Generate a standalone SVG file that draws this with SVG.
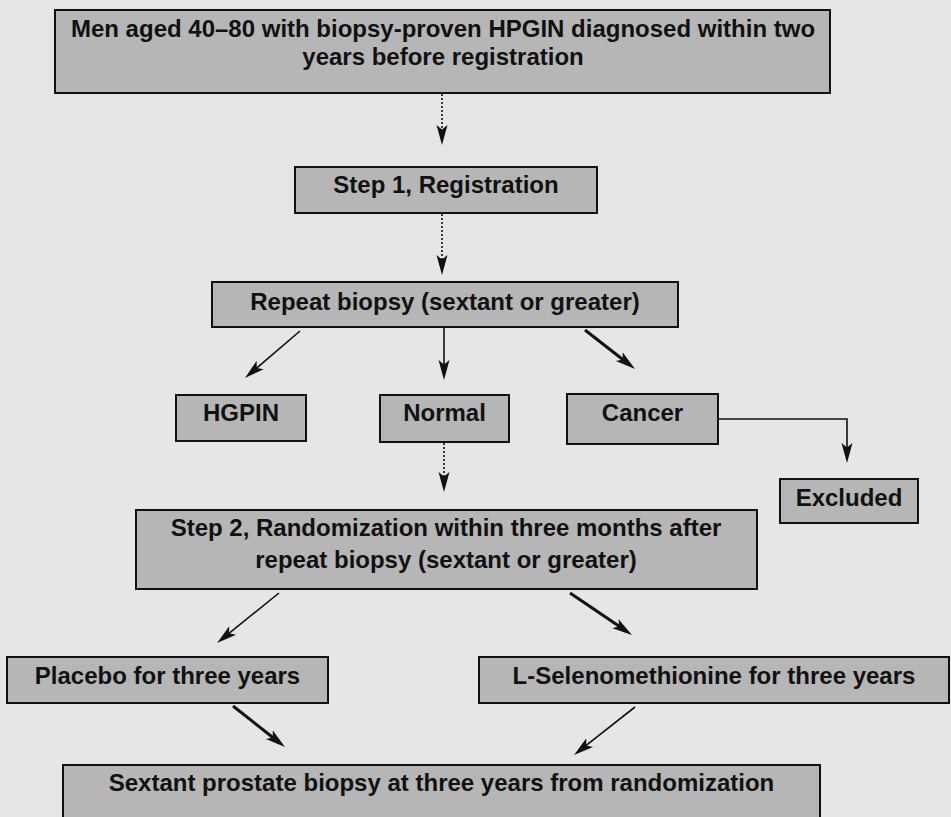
<svg xmlns="http://www.w3.org/2000/svg" width="951" height="817" viewBox="0 0 951 817">
<style>
.box{fill:#b6b6b6;stroke:#111;stroke-width:2}
.t{font-family:"Liberation Sans",Arial,sans-serif;font-weight:bold;font-size:24px;fill:#111;text-anchor:middle}
.c{fill:none;stroke:#111;stroke-width:1.6}
.thick{stroke-width:3}
.dot{stroke-dasharray:2 2}
</style>
<defs>
<marker id="ah" markerUnits="userSpaceOnUse" markerWidth="22" markerHeight="14" refX="13" refY="7" orient="auto">
<path d="M0,1.5 L20,7 L0,12.5 L4.5,7 z" fill="#111"/>
</marker>
</defs>
<rect x="0" y="0" width="951" height="817" fill="#e6e6e6"/>
<g id="connectors">
<line class="c dot" x1="442" y1="94" x2="442" y2="138" marker-end="url(#ah)"/>
<line class="c dot" x1="442" y1="214" x2="442" y2="268" marker-end="url(#ah)"/>
<line class="c" x1="300" y1="331" x2="250.3" y2="373.5" marker-end="url(#ah)"/>
<line class="c" x1="444" y1="328" x2="444" y2="373" marker-end="url(#ah)"/>
<line class="c thick" x1="585" y1="330" x2="629.5" y2="364.7" marker-end="url(#ah)"/>
<line class="c dot" x1="444" y1="443" x2="444" y2="485" marker-end="url(#ah)"/>
<path class="c" d="M719,419 H847 V456" marker-end="url(#ah)"/>
<line class="c" x1="279" y1="593" x2="222.5" y2="638.6" marker-end="url(#ah)"/>
<line class="c thick" x1="570" y1="593" x2="626.2" y2="631.1" marker-end="url(#ah)"/>
<line class="c thick" x1="233" y1="706" x2="279.5" y2="742.7" marker-end="url(#ah)"/>
<line class="c" x1="635" y1="707" x2="579.5" y2="750.7" marker-end="url(#ah)"/>
</g>
<g id="n-top">
<rect class="box" x="55" y="10" width="775" height="83"/>
<text class="t" x="443" y="37">Men aged 40–80 with biopsy-proven HPGIN diagnosed within two</text>
<text class="t" x="443" y="65">years before registration</text>
</g>
<g id="n-step1">
<rect class="box" x="295" y="167" width="302" height="46"/>
<text class="t" x="446" y="193">Step 1, Registration</text>
</g>
<g id="n-repeat">
<rect class="box" x="212" y="282" width="466" height="45"/>
<text class="t" x="445" y="310">Repeat biopsy (sextant or greater)</text>
</g>
<g id="n-hgpin">
<rect class="box" x="176" y="395" width="130" height="46"/>
<text class="t" x="241" y="421">HGPIN</text>
</g>
<g id="n-normal">
<rect class="box" x="380" y="395" width="129" height="47"/>
<text class="t" x="444.5" y="421">Normal</text>
</g>
<g id="n-cancer">
<rect class="box" x="567" y="394" width="151" height="50"/>
<text class="t" x="642.5" y="421">Cancer</text>
</g>
<g id="n-excluded">
<rect class="box" x="780" y="479" width="138" height="44"/>
<text class="t" x="849" y="506">Excluded</text>
</g>
<g id="n-step2">
<rect class="box" x="136" y="510" width="621" height="79"/>
<text class="t" x="446" y="536">Step 2, Randomization within three months after</text>
<text class="t" x="446" y="568">repeat biopsy (sextant or greater)</text>
</g>
<g id="n-placebo">
<rect class="box" x="7" y="657" width="321" height="46"/>
<text class="t" x="167.5" y="684">Placebo for three years</text>
</g>
<g id="n-lsel">
<rect class="box" x="479" y="657" width="470" height="46"/>
<text class="t" x="714" y="684">L-Selenomethionine for three years</text>
</g>
<g id="n-final">
<rect class="box" x="63" y="765" width="757" height="70"/>
<text class="t" x="441.5" y="791">Sextant prostate biopsy at three years from randomization</text>
</g>
</svg>
